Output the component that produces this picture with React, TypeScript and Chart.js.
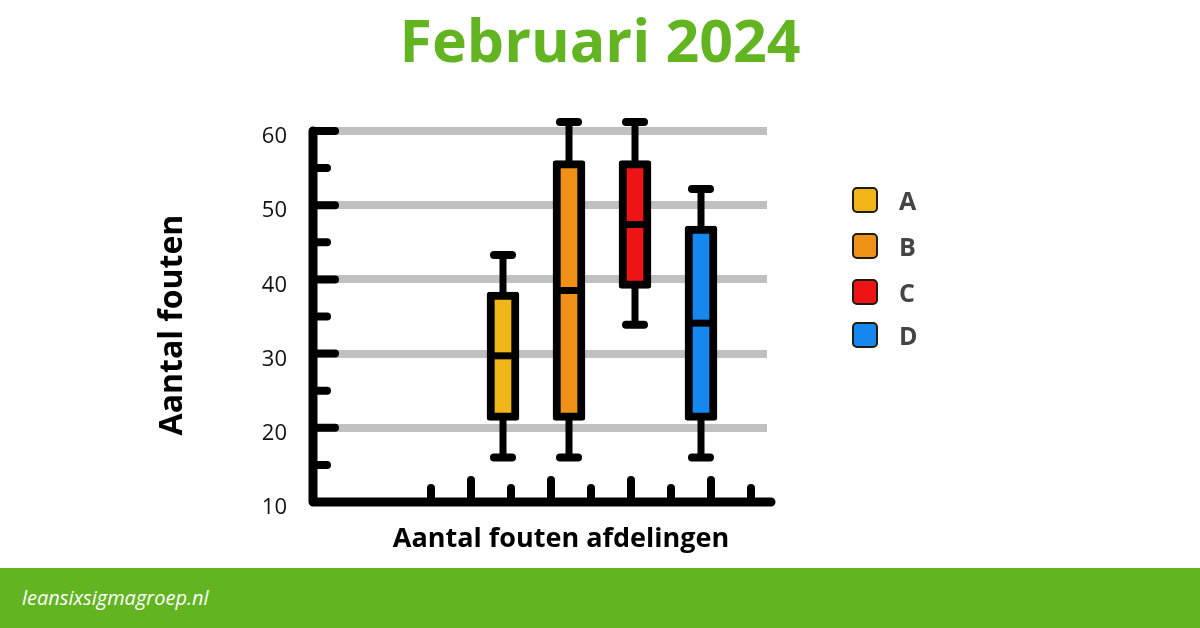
import { useEffect, useRef } from 'react';
import { Chart, registerables } from 'chart.js';

Chart.register(...registerables);

// departments and their box plot values (aantal fouten)
const departments = ['A', 'B', 'C', 'D'];
const boxPositions = [4.8, 6.45, 8.1, 9.75];
const minValues = [16, 16, 33.9, 16];
const q1Values = [21, 21, 38.8, 21];
const medianValues = [29.7, 38.5, 47.4, 34.1];
const q3Values = [38.3, 56, 56, 47.2];
const maxValues = [43.3, 61.2, 61.2, 52.2];
const boxColors = ['#f0b619', '#ef9116', '#ee1416', '#1587ed'];

// decorative axis marks
const yMarks = [15, 20, 25, 30, 35, 40, 45, 50, 55, 60];
const xMarks = [3, 4, 5, 6, 7, 8, 9, 10, 11];

const GREEN = '#63b421';
const FONT = '"Open Sans", "Noto Sans", sans-serif';

const boxPlotPlugin = {
   id: 'boxPlot',
   beforeDatasetsDraw(chart: any) {
      const { ctx, scales } = chart;
      const { x, y } = scales;
      ctx.save();
      ctx.strokeStyle = '#000';
      ctx.lineCap = 'round';
      boxPositions.forEach((pos, i) => {
         const px = x.getPixelForValue(pos);
         ctx.lineWidth = 7;
         ctx.beginPath();
         ctx.moveTo(px, y.getPixelForValue(maxValues[i]));
         ctx.lineTo(px, y.getPixelForValue(minValues[i]));
         ctx.stroke();
         ctx.lineWidth = 8;
         [minValues[i], maxValues[i]].forEach(v => {
            const py = y.getPixelForValue(v);
            ctx.beginPath();
            ctx.moveTo(px - 9, py);
            ctx.lineTo(px + 9, py);
            ctx.stroke();
         });
      });
      ctx.restore();
   },
   afterDatasetsDraw(chart: any) {
      const { ctx, scales, chartArea } = chart;
      const { x, y } = scales;
      ctx.save();
      ctx.strokeStyle = '#000';

      // medians
      const meta = chart.getDatasetMeta(0);
      ctx.lineWidth = 7;
      ctx.lineCap = 'butt';
      meta.data.forEach((bar: any, i: number) => {
         const { x: bx, width } = bar.getProps(['x', 'width'], true);
         const py = y.getPixelForValue(medianValues[i]);
         ctx.beginPath();
         ctx.moveTo(bx - width / 2 + 2, py);
         ctx.lineTo(bx + width / 2 - 2, py);
         ctx.stroke();
      });

      // axis lines (x axis runs a little past the grid)
      const left = chartArea.left;
      const bottom = y.getPixelForValue(10);
      ctx.lineCap = 'round';
      ctx.lineJoin = 'round';
      ctx.lineWidth = 9;
      ctx.beginPath();
      ctx.moveTo(left, y.getPixelForValue(60));
      ctx.lineTo(left, bottom);
      ctx.lineTo(x.getPixelForValue(11.5), bottom);
      ctx.stroke();

      // y marks, pointing inwards
      ctx.lineWidth = 8;
      yMarks.forEach(v => {
         const py = y.getPixelForValue(v);
         const len = v % 10 === 0 ? 22 : 14;
         ctx.beginPath();
         ctx.moveTo(left, py);
         ctx.lineTo(left + len, py);
         ctx.stroke();
      });

      // x marks, pointing upwards
      xMarks.forEach(v => {
         const px = x.getPixelForValue(v);
         const len = v % 2 === 0 ? 22 : 14;
         ctx.beginPath();
         ctx.moveTo(px, bottom);
         ctx.lineTo(px, bottom - len);
         ctx.stroke();
      });
      ctx.restore();
   },
};

function BoxChart() {
   const canvasRef = useRef<HTMLCanvasElement>(null);

   useEffect(() => {
      const canvas = canvasRef.current;
      if (!canvas) return;
      const chart = new Chart(canvas, {
         type: 'bar',
         data: {
            labels: departments,
            datasets: [
               {
                  data: boxPositions.map((p, i) => ({ x: p, y: [q1Values[i], q3Values[i]] })) as any,
                  backgroundColor: boxColors,
                  borderColor: '#000',
                  borderWidth: 8,
                  borderRadius: 3,
                  borderSkipped: false,
                  barThickness: 32,
               },
            ],
         },
         options: {
            animation: false,
            responsive: false,
            devicePixelRatio: 1,
            layout: {
               padding: { left: 152, right: 433, top: 131, bottom: 66 },
            },
            plugins: {
               legend: { display: false },
               tooltip: { enabled: false },
            },
            scales: {
               x: {
                  type: 'linear',
                  min: 0.05,
                  max: 11.4,
                  offset: false,
                  display: false,
               },
               y: {
                  min: 10,
                  max: 60,
                  grid: { color: '#c0c0c0', lineWidth: 8, drawTicks: false },
                  border: { display: false },
                  ticks: {
                     stepSize: 10,
                     color: '#111',
                     padding: 26,
                     labelOffset: 6,
                     font: { family: FONT, size: 22 },
                  },
                  title: { display: false },
                  afterFit: (scale: any) => {
                     scale.width = 161;
                  },
               },
            },
         },
         plugins: [boxPlotPlugin],
      });
      return () => {
         chart.destroy();
      };
   }, []);

   return <canvas ref={canvasRef} width={1200} height={568} style={{ position: 'absolute', left: 0, top: 0 }} />;
}

const legendCenters = [200, 246, 292, 335];

export default function App() {
   return (
      <div
         style={{
            position: 'absolute',
            left: 0,
            top: 0,
            width: 1200,
            height: 628,
            background: '#fff',
            overflow: 'hidden',
            fontFamily: FONT,
         }}
      >
         <div
            style={{
               position: 'absolute',
               left: 0,
               top: 10,
               width: 1200,
               textAlign: 'center',
               fontSize: 59,
               lineHeight: 1,
               fontWeight: 700,
               color: GREEN,
            }}
         >
            Februari 2024
         </div>
         <BoxChart />
         <div
            style={{
               position: 'absolute',
               left: 20,
               top: 305,
               width: 300,
               height: 40,
               lineHeight: '40px',
               textAlign: 'center',
               fontSize: 32,
               fontWeight: 700,
               color: '#000',
               transform: 'rotate(-90deg)',
            }}
         >
            Aantal fouten
         </div>
         <div
            style={{
               position: 'absolute',
               left: 361,
               top: 523,
               width: 400,
               textAlign: 'center',
               fontSize: 27,
               lineHeight: 1,
               fontWeight: 700,
               color: '#000',
            }}
         >
            Aantal fouten afdelingen
         </div>
         {departments.map((d, i) => (
            <div
               key={d}
               style={{
                  position: 'absolute',
                  left: 852,
                  top: legendCenters[i] - 13,
                  height: 26,
                  display: 'flex',
                  alignItems: 'center',
               }}
            >
               <div
                  style={{
                     width: 22,
                     height: 22,
                     background: boxColors[i],
                     border: '2px solid #1c1c12',
                     borderRadius: 5,
                  }}
               />
               <span
                  style={{
                     marginLeft: 21,
                     fontSize: 25,
                     lineHeight: 1,
                     fontWeight: 700,
                     color: '#444',
                  }}
               >
                  {d}
               </span>
            </div>
         ))}
         <div
            style={{
               position: 'absolute',
               left: 0,
               top: 568,
               width: 1200,
               height: 60,
               background: GREEN,
               color: '#fff',
               fontStyle: 'italic',
               fontSize: 20,
               lineHeight: '60px',
               paddingLeft: 22,
               boxSizing: 'border-box',
            }}
         >
            leansixsigmagroep.nl
         </div>
      </div>
   );
}
